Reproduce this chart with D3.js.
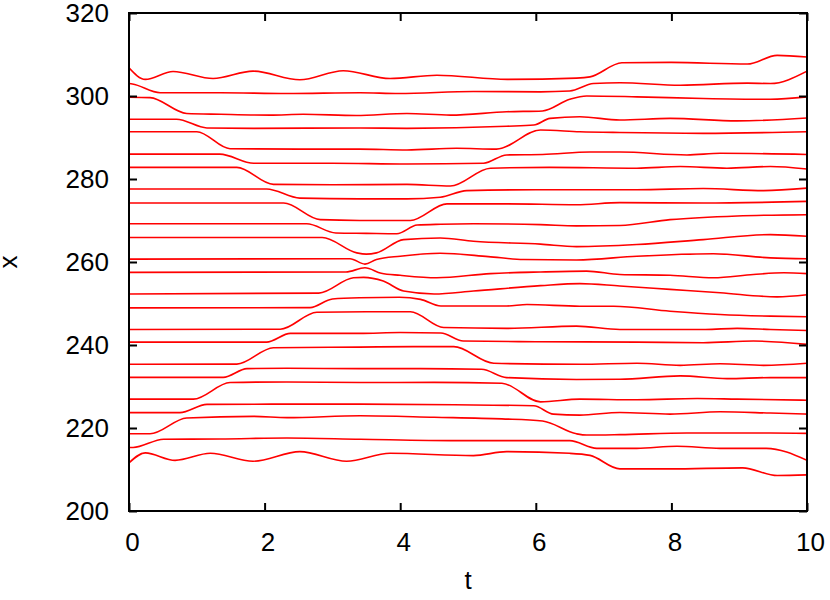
<!DOCTYPE html>
<html lang="en">
<head>
<meta charset="UTF-8">
<title>trajectories</title>
<script src="https://d3js.org/d3.v7.min.js"></script>
<style>
    body { margin: 0; background: #fff; }
    svg text { font-family: "Liberation Sans", Arial, Helvetica, sans-serif; fill: #000; }
</style>
</head>
<body>
<div id="chart"></div>
<script>
// axis ticks
const tTicks = [0, 2, 4, 6, 8, 10];
const xTicks = [200, 220, 240, 260, 280, 300, 320];

// each trajectory: [t, x] pairs, top to bottom
const p01 = [[0, 306.8], [0.24, 304.0], [0.65, 305.9], [1.24, 304.2], [1.83, 306.0], [2.52, 303.9], [3.16, 306.1], [3.85, 304.2], [4.54, 305.0], [5.58, 304.0], [6.6, 304.3], [6.8, 304.6], [7.27, 308.0], [8.0, 308.1], [9.12, 307.7], [9.56, 309.8], [10, 309.4]];
const p02 = [[0, 303.0], [0.05, 302.9], [0.46, 300.8], [1.35, 300.8], [2.33, 300.6], [3.41, 300.8], [3.98, 300.6], [5.08, 301.1], [6.07, 301.0], [6.5, 301.2], [6.85, 303.0], [7.24, 303.2], [8.13, 302.6], [9.12, 303.1], [9.46, 303.0], [10, 306.0]];
const p03 = [[0, 299.7], [0.31, 299.6], [0.85, 295.8], [1.35, 295.6], [2.08, 295.4], [2.57, 295.6], [3.35, 295.3], [4.1, 295.8], [4.74, 295.4], [5.57, 296.2], [6.1, 296.4], [6.5, 299.2], [6.75, 300.0], [7.49, 299.8], [8.47, 299.4], [9.46, 299.2], [10, 299.8]];
const p04 = [[0, 294.4], [0.7, 294.4], [1.15, 292.3], [1.84, 292.2], [3.41, 292.3], [4.1, 292.2], [5.57, 292.7], [5.97, 293.0], [6.21, 294.6], [6.65, 295.0], [7.24, 294.2], [7.98, 294.6], [8.97, 294.0], [10, 294.7]];
const p05 = [[0, 291.4], [1.0, 291.4], [1.49, 287.3], [2.5, 287.2], [3.4, 287.2], [4.1, 287.0], [4.83, 287.4], [5.42, 287.2], [6.07, 291.8], [6.65, 291.4], [7.24, 291.2], [8.47, 291.0], [10, 291.4]];
const p06 = [[0, 286.0], [1.34, 286.0], [1.84, 283.8], [3.0, 283.8], [4.1, 283.6], [5.23, 283.8], [5.57, 285.8], [6.1, 285.9], [6.8, 286.5], [7.24, 286.5], [8.23, 285.8], [8.72, 286.2], [10, 285.9]];
const p07 = [[0, 282.8], [1.59, 282.8], [2.13, 278.7], [3.0, 278.6], [4.1, 278.7], [4.74, 278.3], [5.33, 282.6], [6.2, 282.8], [7.49, 282.6], [8.13, 283.0], [8.82, 282.6], [9.46, 283.0], [10, 282.4]];
const p08 = [[0, 277.6], [2.03, 277.6], [2.52, 275.4], [3.4, 275.2], [4.1, 275.2], [4.59, 275.6], [4.98, 277.2], [6.0, 277.4], [7.49, 277.4], [8.47, 277.7], [9.36, 277.2], [10, 277.8]];
const p09 = [[0, 274.2], [2.28, 274.2], [2.82, 270.2], [3.4, 270.0], [4.15, 270.0], [4.69, 274.0], [5.57, 274.0], [6.6, 273.8], [7.24, 274.3], [8.47, 274.2], [10, 274.6]];
const p10 = [[0, 269.2], [2.62, 269.2], [3.05, 267.0], [3.5, 266.9], [3.95, 266.8], [4.25, 268.9], [4.6, 269.1], [5.08, 269.2], [6.07, 269.0], [6.6, 268.7], [7.24, 268.8], [7.98, 270.2], [8.97, 271.1], [10, 271.4]];
const p11 = [[0, 265.9], [2.85, 265.9], [3.36, 262.2], [3.5, 261.9], [3.65, 262.2], [4.05, 265.4], [4.59, 265.8], [5.08, 265.0], [6.07, 264.3], [6.6, 263.7], [7.49, 264.2], [8.47, 265.4], [9.46, 266.6], [10, 266.2]];
const p12 = [[0, 260.7], [3.26, 260.8], [3.48, 259.5], [3.65, 260.6], [4.0, 261.4], [4.59, 262.1], [5.3, 261.3], [5.82, 260.6], [6.6, 260.5], [7.49, 261.4], [8.62, 262.0], [9.46, 261.0], [10, 260.8]];
const p13 = [[0, 257.5], [3.2, 257.6], [3.48, 258.6], [3.72, 257.3], [4.0, 256.8], [4.54, 256.2], [5.33, 257.2], [6.07, 257.6], [6.75, 257.8], [7.24, 257.0], [7.98, 256.8], [8.62, 256.2], [9.21, 257.0], [9.66, 257.4], [10, 257.2]];
const p14 = [[0, 252.3], [2.8, 252.5], [3.31, 256.2], [3.46, 256.3], [3.75, 255.4], [4.05, 253.0], [4.5, 252.3], [5.08, 253.0], [6.07, 254.3], [6.65, 254.8], [7.24, 254.2], [7.98, 253.4], [8.72, 252.6], [9.56, 251.6], [10, 252.1]];
const p15 = [[0, 248.95], [2.67, 249.0], [3.0, 251.1], [3.4, 251.4], [3.99, 251.5], [4.3, 251.0], [4.6, 249.4], [5.57, 249.4], [5.87, 249.75], [6.65, 249.35], [7.15, 249.35], [7.98, 248.15], [8.72, 247.35], [9.46, 246.95], [10, 246.8]];
const p16 = [[0, 243.75], [2.23, 243.8], [2.77, 247.9], [3.5, 248.0], [4.15, 248.0], [4.64, 244.2], [5.57, 244.0], [6.6, 244.55], [7.24, 243.75], [8.5, 243.75], [8.97, 244.0], [9.46, 243.75], [10, 243.5]];
const p17 = [[0, 240.7], [2.03, 240.7], [2.38, 242.8], [3.4, 242.8], [4.0, 243.0], [4.6, 242.9], [4.93, 240.95], [6.0, 240.8], [7.49, 240.7], [8.47, 240.55], [9.21, 240.95], [10, 240.15]];
const p18 = [[0, 235.35], [1.59, 235.4], [2.13, 239.35], [3.4, 239.5], [4.2, 239.6], [4.79, 239.6], [5.38, 235.6], [6.65, 235.35], [7.49, 235.6], [8.13, 235.1], [8.72, 235.5], [9.36, 235.1], [10, 235.6]];
const p19 = [[0, 232.2], [1.39, 232.2], [1.74, 234.3], [2.33, 234.4], [3.41, 234.3], [4.3, 234.3], [5.2, 234.15], [5.57, 232.15], [6.6, 231.7], [7.24, 231.75], [8.13, 232.55], [8.82, 231.9], [9.46, 232.15], [10, 232.15]];
const p20 = [[0, 226.95], [0.95, 226.95], [1.49, 230.95], [2.33, 231.1], [3.41, 230.95], [4.5, 231.0], [5.5, 230.8], [6.07, 226.3], [6.65, 226.95], [7.49, 226.8], [8.38, 227.1], [8.97, 226.95], [10, 226.7]];
const p21 = [[0, 223.7], [0.75, 223.7], [1.15, 225.7], [2.1, 225.75], [3.41, 225.75], [4.8, 225.6], [5.97, 225.35], [6.26, 223.35], [6.65, 223.1], [7.24, 223.75], [7.98, 223.35], [8.72, 223.9], [9.46, 223.6], [10, 223.35]];
const p22 = [[0, 218.6], [0.31, 218.6], [0.85, 222.4], [1.84, 222.8], [2.33, 222.5], [3.41, 222.95], [4.5, 222.6], [5.5, 222.2], [6.1, 221.7], [6.6, 218.6], [6.75, 218.3], [7.24, 218.4], [8.23, 218.8], [9.46, 218.8], [10, 218.7]];
const p23 = [[0, 215.3], [0.06, 215.3], [0.51, 217.3], [1.34, 217.35], [2.33, 217.6], [3.41, 217.3], [4.83, 216.95], [6.5, 216.95], [6.9, 215.1], [7.49, 215.1], [8.08, 215.6], [8.72, 215.1], [9.4, 215.1], [10, 212.2]];
const p24 = [[0, 211.6], [0.24, 214.0], [0.68, 212.2], [1.2, 213.9], [1.83, 212.0], [2.52, 214.3], [3.21, 212.0], [3.85, 213.9], [5.08, 213.35], [5.57, 214.3], [6.5, 213.9], [6.8, 213.4], [7.24, 210.15], [7.98, 210.15], [9.05, 210.4], [9.56, 208.55], [10, 208.7]];

const particles = [p01, p02, p03, p04, p05, p06, p07, p08, p09, p10, p11, p12,
                   p13, p14, p15, p16, p17, p18, p19, p20, p21, p22, p23, p24];

const width = 830, height = 600;
const plotL = 129, plotR = 807, plotT = 13, plotB = 511;

const svg = d3.select("#chart").append("svg")
    .attr("width", width)
    .attr("height", height);

const x = d3.scaleLinear().domain([0, 10]).range([plotL, plotR]);
const y = d3.scaleLinear().domain([200, 320]).range([plotB, plotT]);

svg.append("clipPath").attr("id", "clip")
  .append("rect")
    .attr("x", plotL).attr("y", plotT)
    .attr("width", plotR - plotL).attr("height", plotB - plotT);

// curves
const line = d3.line()
    .x(d => x(d[0]))
    .y(d => y(d[1]))
    .curve(d3.curveMonotoneX);

svg.append("g")
    .attr("clip-path", "url(#clip)")
  .selectAll("path")
  .data(particles)
  .join("path")
    .attr("d", line)
    .attr("fill", "none")
    .attr("stroke", "#ff0000")
    .attr("stroke-width", 1.6);

// axes, ticks pointing inward
const fontSize = 26;

const gx = svg.append("g")
    .attr("transform", `translate(0,${plotB})`)
    .call(d3.axisBottom(x).tickValues(tTicks).tickSize(-8).tickPadding(22).tickFormat(d3.format("d")));
gx.selectAll("text").attr("dx", 3);

const gy = svg.append("g")
    .attr("transform", `translate(${plotL},0)`)
    .call(d3.axisLeft(y).tickValues(xTicks).tickSize(-8).tickPadding(20).tickFormat(d3.format("d")));

svg.append("g")
    .attr("transform", `translate(0,${plotT})`)
    .call(d3.axisTop(x).tickValues(tTicks).tickSize(-8).tickFormat(""));

svg.append("g")
    .attr("transform", `translate(${plotR},0)`)
    .call(d3.axisRight(y).tickValues(xTicks).tickSize(-8).tickFormat(""));

svg.selectAll(".domain").remove();
svg.selectAll(".tick line").attr("stroke", "#000").attr("stroke-width", 2);
svg.selectAll(".tick text")
    .attr("font-size", fontSize)
    .attr("font-family", "'Liberation Sans', Arial, Helvetica, sans-serif")
    .attr("fill", "#000");

// frame
svg.append("rect")
    .attr("x", plotL).attr("y", plotT)
    .attr("width", plotR - plotL).attr("height", plotB - plotT)
    .attr("fill", "none")
    .attr("stroke", "#000")
    .attr("stroke-width", 2);

// axis titles
svg.append("text")
    .attr("x", (plotL + plotR) / 2)
    .attr("y", 589)
    .attr("text-anchor", "middle")
    .attr("font-size", fontSize)
    .text("t");

svg.append("text")
    .attr("transform", `translate(17,${(plotT + plotB) / 2}) rotate(-90)`)
    .attr("text-anchor", "middle")
    .attr("font-size", fontSize)
    .text("x");
</script>
</body>
</html>
